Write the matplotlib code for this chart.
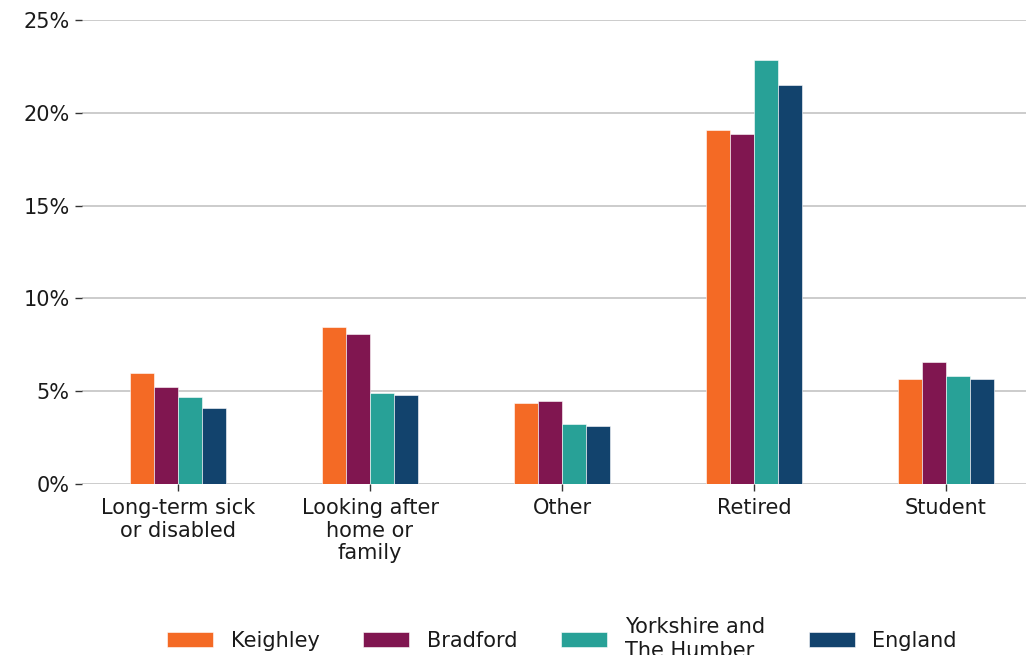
import matplotlib
matplotlib.use("Agg")
import matplotlib.pyplot as plt
import numpy as np
from matplotlib.ticker import FuncFormatter

categories = ["Long-term sick\nor disabled", "Looking after\nhome or\nfamily", "Other", "Retired", "Student"]
series_names = ["Keighley", "Bradford", "Yorkshire and\nThe Humber", "England"]
keighley = [6.0, 8.45, 4.35, 19.05, 5.65]
bradford = [5.25, 8.1, 4.45, 18.85, 6.6]
yorkshire = [4.7, 4.9, 3.25, 22.85, 5.8]
england = [4.1, 4.8, 3.15, 21.5, 5.65]
colors = ["#F46A25", "#801650", "#28A197", "#12436D"]
yticks = [0, 5, 10, 15, 20, 25]

plt.rcParams['font.family'] = ['DejaVu Sans']
fig = plt.figure(figsize=(10.26, 6.55), dpi=100)
W, H = 1026, 655
ax = fig.add_axes([82 / W, (H - 484) / H, (1042 - 82) / W, (484 - 20) / H])

x = np.arange(len(categories))
bw = 0.125
data = [keighley, bradford, yorkshire, england]
handles = []
for i, (vals, c, name) in enumerate(zip(data, colors, series_names)):
    b = ax.bar(x + (i - 1.5) * bw, vals, width=bw, color=c, edgecolor="white",
               linewidth=0.4, label=name, zorder=3)
    handles.append(b)

ax.set_xlim(-0.5, 4.5)
ax.set_ylim(0, 25)
ax.set_yticks(yticks)
ax.yaxis.set_major_formatter(FuncFormatter(lambda v, p: f"{int(v)}%"))
ax.set_xticks(x)
ax.set_xticklabels(categories, fontsize=15, color="#1a1a1a", linespacing=1.17)
ax.tick_params(axis="y", labelsize=15, labelcolor="#1a1a1a", length=5, width=1, color="#333333", pad=4)
ax.tick_params(axis="x", length=5, width=1, color="#333333", pad=5)
for s in ax.spines.values():
    s.set_visible(False)
ax.grid(axis="y", color="#c4c4c4", linewidth=1.2, zorder=0)
ax.set_axisbelow(True)

fig.legend(handles=handles, labels=series_names, loc="center", ncol=4,
           bbox_to_anchor=(562 / W, 1 - 639 / H), bbox_transform=fig.transFigure,
           frameon=False, fontsize=15, handlelength=2.2, handleheight=0.7,
           handletextpad=0.85, columnspacing=2.1, labelcolor="#1a1a1a")

fig.savefig("out.png", dpi=100)
